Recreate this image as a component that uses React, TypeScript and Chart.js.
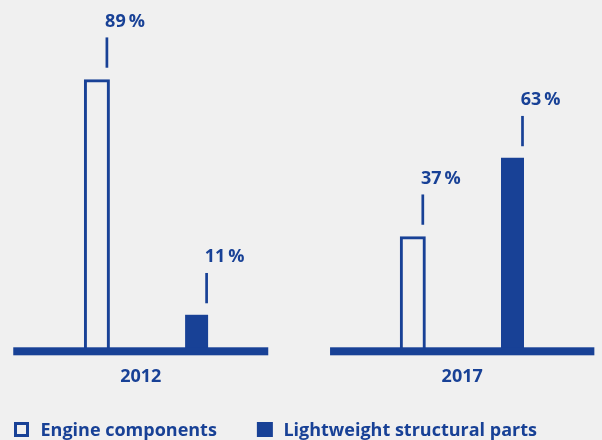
import React, { useEffect, useRef } from 'react';
import { Chart, registerables } from 'chart.js';

Chart.register(...registerables);

// ---- data ----
const categories: string[] = ['2012', '2017'];
const seriesNames: string[] = ['Engine components', 'Lightweight structural parts'];
const engineShares: number[] = [89, 37];
const lightweightShares: number[] = [11, 63];
const valueSuffix = '\u2009%';

// ---- style ----
const BLUE = '#184196';
const BG = '#f0f0f0';
const FONT = '"Open Sans", "Noto Sans", sans-serif';
// baseline extents relative to each category centre (px)
const BASELINE_EXTENT: [number, number][] = [
  [-133.5, 121.5],
  [-132.6, 131.7],
];

const decorPlugin = {
  id: 'decor',
  afterDatasetsDraw(chart: any) {
    const { ctx } = chart;
    const xs = chart.scales.x;
    const ys = chart.scales.y;
    const y0 = ys.getPixelForValue(0);
    ctx.save();
    ctx.fillStyle = BLUE;
    ctx.font = `700 18px ${FONT}`;

    // baselines + category labels
    categories.forEach((cat, i) => {
      const cx = xs.getPixelForValue(i);
      const [l, r] = BASELINE_EXTENT[i];
      ctx.fillRect(cx + l, y0 - 0.7, r - l, 8);
      ctx.textAlign = 'center';
      ctx.textBaseline = 'alphabetic';
      ctx.fillText(cat, cx + (l + r) / 2, y0 + 34);
    });

    // value labels with leader ticks
    chart.data.datasets.forEach((ds: any, di: number) => {
      const meta = chart.getDatasetMeta(di);
      meta.data.forEach((bar: any, i: number) => {
        const { x: bx, y: by } = bar.getProps(['x', 'y'], true);
        const tx = bx + 10;
        const tickBottom = by - 11.5;
        const tickLen = 30.3;
        const tickTop = tickBottom - tickLen;
        ctx.fillRect(tx - 1.35, tickTop, 2.7, tickLen);
        ctx.textAlign = 'left';
        ctx.textBaseline = 'alphabetic';
        ctx.fillText(String(ds.data[i]) + valueSuffix, tx - 1.8, tickTop - 10.5);
      });
    });

    // legend
    let lx = 14;
    const boxTop = 422;
    chart.data.datasets.forEach((ds: any) => {
      if (ds.borderWidth > 0) {
        ctx.strokeStyle = ds.borderColor;
        ctx.lineWidth = 3;
        ctx.strokeRect(lx + 1.5, boxTop + 1.5, 12, 12);
      } else {
        ctx.fillStyle = ds.backgroundColor;
        ctx.fillRect(lx, boxTop, 16, 15);
      }
      ctx.fillStyle = BLUE;
      const textX = lx + 26.5;
      ctx.textAlign = 'left';
      ctx.textBaseline = 'alphabetic';
      ctx.fillText(ds.label, textX, 436);
      lx = textX + ctx.measureText(ds.label).width + 40;
    });
    ctx.restore();
  },
};

export default function App() {
  const canvasRef = useRef<HTMLCanvasElement | null>(null);

  useEffect(() => {
    if (!canvasRef.current) return;
    const chart = new Chart(canvasRef.current, {
      type: 'bar',
      data: {
        labels: categories,
        datasets: [
          {
            label: seriesNames[0],
            data: engineShares,
            backgroundColor: 'rgba(0,0,0,0)',
            borderColor: BLUE,
            borderWidth: 3,
            borderSkipped: 'bottom',
            categoryPercentage: 0.6312,
            barPercentage: 0.2608,
            clip: false,
          } as any,
          {
            label: seriesNames[1],
            data: lightweightShares,
            backgroundColor: BLUE,
            borderWidth: 0,
            categoryPercentage: 0.6312,
            barPercentage: 0.2307,
            clip: false,
          } as any,
        ],
      },
      options: {
        animation: false,
        responsive: false,
        maintainAspectRatio: false,
        devicePixelRatio: 1,
        layout: { padding: { top: 46, bottom: 92, left: 146.75, right: 139.35 } },
        scales: {
          x: { type: 'category', offset: false, display: false },
          y: { min: 0, max: 100, display: false },
        },
        plugins: {
          legend: { display: false },
          tooltip: { enabled: false },
        },
      },
      plugins: [decorPlugin],
    });
    return () => chart.destroy();
  }, []);

  return (
    <div style={{ position: 'fixed', left: 0, top: 0, width: 602, height: 440, background: BG }}>
      <canvas ref={canvasRef} width={602} height={440} style={{ display: 'block' }} />
    </div>
  );
}
